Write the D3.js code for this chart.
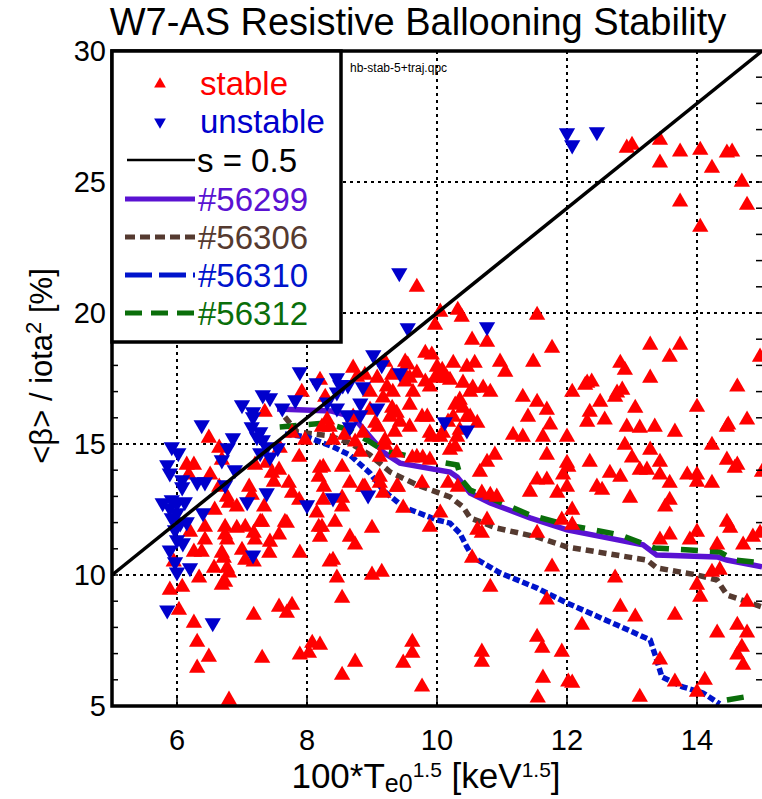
<!DOCTYPE html>
<html>
<head>
<meta charset="utf-8">
<script src="https://cdn.jsdelivr.net/npm/d3@7"></script>
<style>
  body { margin: 0; background: #fff; }
  svg { display: block; font-family: "Liberation Sans", Arial, sans-serif; }
</style>
</head>
<body>
<svg id="chart" width="762" height="799"></svg>
<script>
// stable / unstable points: [100*Te0^1.5, <beta>/iota^2]
const stable = [
  [6.43,11.83],[6.74,11.83],[6.92,11.79],[7.31,12.02],[7.69,11.98],[6.2,11.64],[6.74,11.53],[7.18,11.6],[7.57,11.53],[6.43,11.34],
  [6.77,11.34],[7.2,11.34],[7.43,11.26],[7.0,10.95],[6.26,10.88],[6.38,10.88],[6.69,10.84],[6.72,10.65],[7.42,10.84],[7.05,10.57],
  [7.18,10.5],[6.57,10.27],[6.77,10.27],[6.8,10.08],[5.95,10.5],[6.34,9.89],[6.69,9.62],[6.74,9.73],[5.89,9.43],[6.08,9.54],
  [6.03,8.66],[6.26,8.17],[7.57,8.78],[7.77,8.85],[7.69,8.55],[7.18,8.47],[6.31,7.44],[6.49,6.87],[7.31,6.83],[6.31,6.45],
  [6.8,5.23],[7.89,6.95],[8.03,7.02],[8.08,7.4],[8.2,7.33],[8.18,11.83],[8.2,11.45],[8.35,10.5],
  [6.49,15.23],[6.65,14.85],[6.69,14.39],[6.15,14.2],[6.26,14.2],[6.51,13.82],[6.65,13.36],[6.18,13.82],[6.77,12.98],[6.8,12.75],
  [6.92,12.6],[6.58,12.48],[7.35,16.22],[7.58,14.85],[7.2,14.2],[7.38,14.27],[7.46,13.89],[7.57,14.01],[7.49,13.55],[7.11,13.36],
  [7.15,13.05],[7.34,12.6],[7.72,13.51],[7.77,13.13],[7.88,14.5],[7.92,16.98],[8.2,14.08],[8.18,13.74],[8.26,13.36],[8.15,12.37],
  [7.77,15.42],[7.97,15.15],[7.88,12.86],[7.66,12.02],[7.28,12.02],[7.05,11.83],[8.23,11.83],[7.89,10.84],[8.43,12.02],[8.54,12.6],
  [8.66,11.45],[8.74,11.15],[8.4,10.57],[8.46,9.89],[8.54,9.12],[8.54,6.18],[8.74,6.68],
  [9.97,19.54],[10.54,18.97],[10.77,18.89],[9.82,18.47],[9.92,18.4],[9.51,18.13],[9.55,18.02],[10.25,18.09],[10.46,17.94],[10.58,18.09],
  [10.97,18.13],[11.05,17.75],[11.48,18.13],[9.2,18.13],[9.31,17.63],[9.48,17.75],[9.69,17.71],[10.0,17.94],[10.09,17.63],[10.2,17.44],
  [10.4,17.33],[10.55,17.14],[10.71,17.14],[10.82,16.98],[10.51,16.98],[10.35,16.68],[10.28,16.49],[10.4,16.37],[10.51,16.03],[10.62,15.8],
  [10.25,16.03],[10.17,15.84],[9.89,15.42],[10.09,15.42],[9.77,16.03],[9.58,16.49],[9.38,16.18],[9.43,15.84],[9.28,16.03],[9.58,15.65],
  [9.35,15.46],[9.09,15.65],[9.2,15.15],[9.38,14.66],[9.69,14.5],[9.78,14.47],[10.2,14.77],[10.28,14.89],[10.89,14.58],[10.77,14.31],
  [10.66,13.93],[11.17,15.34],[11.32,15.27],[11.4,16.03],[11.43,13.17],[10.69,13.13],[10.82,13.05],[10.17,13.51],[9.77,13.51],[9.4,13.36],
  [9.12,13.74],[9.12,13.51],[8.66,13.51],[8.86,13.36],[8.54,14.12],[8.25,14.12],[8.54,12.94],[8.25,12.86],[9.17,13.13],[9.48,12.56],
  [10.05,12.37],
  [8.97,16.98],[8.89,17.63],[8.71,17.9],[8.77,17.56],[9.08,17.52],[9.23,17.18],[9.32,16.98],[9.17,16.76],[9.31,16.37],[9.05,15.8],
  [8.86,15.42],[8.74,15.08],[8.82,14.69],[8.58,15.34],[8.4,15.15],[8.35,15.65],[8.31,15.92],[8.23,15.65],[8.71,16.03],[8.97,16.3],
  [9.2,14.96],[9.62,14.47],[9.58,17.52],[9.82,17.37],[9.97,17.52],[10.15,17.52],[10.08,17.82],[9.51,17.37],[9.63,16.98],[9.89,17.18],
  [9.12,14.5],[8.2,17.44],[8.28,16.79],
  [11.77,18.66],[13.28,18.78],[13.74,18.78],[13.58,18.32],[12.82,18.09],[12.89,17.82],[13.28,17.52],[12.31,17.33],[12.38,17.37],[12.08,16.98],
  [12.77,16.95],[12.85,17.06],[12.51,16.6],[11.54,16.6],[11.69,16.3],[13.05,16.37],[14.0,16.41],[14.62,17.18],[12.35,16.22],[12.58,15.92],
  [12.31,15.84],[11.74,15.73],[12.92,15.65],[13.12,15.61],[13.35,15.65],[13.66,15.46],[14.46,15.65],[14.77,15.92],[11.63,15.27],[12.0,15.27],
  [12.89,14.96],[13.28,14.77],[14.23,14.96],[13.0,14.47],[11.69,14.58],[12.35,14.31],[12.0,14.27],[13.12,14.01],[13.23,14.01],[13.43,14.31],
  [14.46,14.39],[14.62,14.2],[12.66,13.89],[12.82,13.74],[13.43,13.82],[13.85,13.82],[14.0,13.82],[14.0,13.55],[13.58,13.51],[14.23,13.51],
  [11.54,13.63],[11.69,13.63],[11.94,13.82],[12.0,13.36],[12.02,14.12],[12.46,13.36],[12.54,13.24],[11.85,13.13],[12.97,12.94],[13.58,12.86],
  [13.51,12.6],[12.08,12.48],[11.92,12.1],[14.46,12.02],[14.51,11.79],[13.58,11.53],[14.0,11.64],[13.89,11.34],[13.43,11.34],[14.31,11.15],
  [14.71,11.15],[14.86,11.45],[14.97,11.6],[11.54,11.6],[12.08,11.91],[14.23,10.11],[14.35,10.19],[14.0,9.62],[14.05,9.16],[14.77,8.97],
  [12.82,8.78],[13.05,8.4],[13.66,8.47],[12.74,9.89],[11.77,10.31],[11.69,9.05],[12.23,8.09],[10.82,9.54],[10.54,10.65],[10.77,12.1],
  [9.89,11.83],[10.62,11.72],[10.69,11.6],[10.32,13.36],[10.92,12.98],
  [14.62,8.09],[14.77,7.79],[14.31,7.79],[14.69,7.25],[14.62,6.95],[14.71,6.56],[13.43,6.76],[13.66,5.92],[14.12,5.99],[14.0,5.53],
  [13.12,5.34],[12.02,5.92],[12.08,5.88],[11.63,6.07],[11.54,7.63],[11.62,7.21],[11.92,7.06],[10.69,7.06],[10.69,6.68],[9.62,7.44],
  [9.62,7.02],[9.48,6.64],[9.77,5.73],[11.55,5.31],[9.0,10.0],[9.15,10.11],[9.0,11.79],[9.38,13.36],[8.89,13.36],[9.89,14.39],
  [9.85,16.03],[9.92,15.27],[10.05,15.27],[10.31,15.27],[10.35,15.53],[10.46,16.03],[11.32,16.79],
  [12.92,26.3],[13.0,26.41],[13.43,26.6],[13.74,26.15],[14.05,26.22],[13.43,25.73],[14.46,26.11],[14.54,26.15],[14.23,25.53],[14.69,25.0],
  [13.74,24.24],[14.77,24.12],[14.05,23.28],[11.54,19.92],[12.28,17.25],[12.74,16.79],[14.97,18.32],[9.69,20.99],[10.05,20.04],[10.32,20.11],
  [10.38,19.85],[14.48,15.73],[15.0,13.93],[14.58,14.08]
];

const unstable = [
  [7.89,17.75],[7.32,16.87],[7.43,16.76],[7.0,16.49],[7.17,16.22],[7.17,16.03],[7.62,16.37],[7.82,16.68],[6.38,15.73],[7.15,15.65],
  [7.28,15.46],[7.23,15.27],[7.32,15.15],[7.38,14.89],[7.28,14.66],[7.55,14.85],[7.43,14.5],[6.86,15.23],[6.78,14.85],[6.69,14.39],
  [6.89,14.01],[5.92,14.89],[6.02,14.66],[5.85,14.2],[5.89,13.89],[6.08,13.63],[6.08,13.36],[6.31,13.55],[6.43,13.55],[6.74,13.44],
  [7.08,12.79],[7.38,13.13],[5.78,12.75],[5.92,12.86],[6.0,12.75],[6.12,12.79],[5.89,12.56],[6.0,12.37],[5.92,12.18],[6.05,11.98],
  [6.15,12.02],[5.97,11.72],[6.0,11.34],[6.09,11.22],[5.89,10.95],[5.97,10.5],[6.0,10.11],[6.2,10.27],[6.4,12.37],[7.17,10.76],
  [5.85,8.66],[6.55,8.17],[8.0,12.67],[8.4,12.94],[8.15,17.33],[8.46,17.52],[8.55,17.25],[9.55,19.43],[10.77,19.47],[9.02,18.4],
  [9.15,18.02],[9.43,17.71],[8.51,17.25],[8.86,17.18],[8.63,17.25],[8.46,16.98],[8.31,16.6],[8.82,16.56],[9.08,16.37],[8.46,16.37],
  [8.62,16.11],[8.82,16.11],[8.66,15.65],[10.12,15.84],[10.46,15.53],[8.94,13.05],[12.0,26.87],[12.08,26.41],[12.46,26.91],[9.42,21.53]
];

// discharge trajectories (null = gap)
const traj56299 = [[7.54,16.34],[8.38,16.26],[8.71,16.03],[9.17,14.69],[9.43,14.27],[10.2,13.93],[10.31,13.74],[10.51,13.13],
  [10.82,12.75],[11.43,12.18],[12.0,11.72],[13.17,11.15],[13.38,10.76],[14.31,10.69],[14.46,10.57],[15.0,10.31]];
const traj56306 = [[7.66,16.03],[7.85,15.46],[8.35,15.31],[8.66,15.04],[8.97,14.58],[9.28,13.93],[9.69,13.44],[10.2,12.98],
  [10.4,12.6],[10.51,12.18],[10.92,11.79],[11.54,11.45],[12.0,11.07],[13.23,10.57],[13.38,10.27],[14.0,10.0],[14.31,9.81],
  [14.46,9.24],[15.0,8.78]];
const traj56310 = [[7.66,15.38],[8.0,15.27],[8.4,14.89],[8.66,14.58],[8.97,13.89],[9.17,13.24],[9.48,12.6],[10.0,12.1],
  [10.2,11.98],[10.35,11.6],[10.46,11.07],[10.55,10.69],[10.97,10.08],[11.54,9.5],[12.0,8.93],[12.77,8.09],[13.28,7.52],
  [13.38,6.76],[13.46,6.11],[13.78,5.73],[14.09,5.5],[14.35,5.08]];
const traj56312 = [[7.58,15.65],[8.28,15.8],[8.66,15.53],[8.97,15.08],[9.17,14.77],[9.74,14.43],[10.05,14.31],[10.31,14.2],
  [10.38,13.63],[10.51,13.24],[10.89,12.86],[11.43,12.29],[12.0,11.91],[12.82,11.53],[13.35,11.03],[13.89,10.95],[14.35,10.88],
  [14.58,10.57],[15.0,10.46],null,[14.46,5.23],[14.82,5.38]];

const xTicks = [6, 8, 10, 12, 14];
const yTicks = [5, 10, 15, 20, 25, 30];

const svg = d3.select("#chart");
const m = { left: 112, right: 762, top: 51, bottom: 706 };

const x = d3.scaleLinear().domain([5, 15]).range([m.left, m.right]);
const y = d3.scaleLinear().domain([5, 30]).range([m.bottom, m.top]);

const series = [
  { name: "#56299", data: traj56299, color: "#5a12d2", dash: null, legDash: null },
  { name: "#56306", data: traj56306, color: "#553a30", dash: "8,5", legDash: "10,5" },
  { name: "#56310", data: traj56310, color: "#0014cc", dash: "7,3", legDash: "27,7" },
  { name: "#56312", data: traj56312, color: "#0a6e0a", dash: "17,12", legDash: "17,9" }
];

// title
svg.append("text")
  .attr("x", 418).attr("y", 35)
  .attr("text-anchor", "middle")
  .style("font-size", "38px")
  .text("W7-AS Resistive Ballooning Stability");

// grid
const grid = svg.append("g")
  .attr("stroke", "#000").attr("stroke-width", 2).attr("stroke-dasharray", "3,4");
grid.selectAll(".gx").data(xTicks).enter().append("line")
  .attr("x1", d => x(d)).attr("x2", d => x(d)).attr("y1", m.top).attr("y2", m.bottom);
grid.selectAll(".gy").data(yTicks.slice(1, -1)).enter().append("line")
  .attr("y1", d => y(d)).attr("y2", d => y(d)).attr("x1", m.left).attr("x2", m.right);

// trajectories
const line = d3.line()
  .defined(d => d !== null)
  .x(d => x(d[0])).y(d => y(d[1]));
series.forEach(s => {
  svg.append("path")
    .datum(s.data)
    .attr("fill", "none")
    .attr("stroke", s.color)
    .attr("stroke-width", 5.5)
    .attr("stroke-dasharray", s.dash)
    .attr("d", line);
});

// points
const up = d3.symbol(d3.symbolTriangle, 115);
svg.append("g").selectAll("path").data(stable).enter().append("path")
  .attr("d", up)
  .attr("transform", d => `translate(${x(d[0])},${y(d[1])})`)
  .attr("fill", "#ff0000");
svg.append("g").selectAll("path").data(unstable).enter().append("path")
  .attr("d", up)
  .attr("transform", d => `translate(${x(d[0])},${y(d[1])}) rotate(180)`)
  .attr("fill", "#0000cc");

// s = 0.5 line
svg.append("line")
  .attr("x1", x(5)).attr("y1", y(10))
  .attr("x2", x(15)).attr("y2", y(30))
  .attr("stroke", "#000").attr("stroke-width", 3.5);

// axes: minor ticks
const tk = svg.append("g").attr("stroke", "#000").attr("stroke-width", 1.5);
tk.selectAll(".ty").data(d3.range(6, 30)).enter().append("line")
  .attr("x1", m.left).attr("x2", m.left + 6)
  .attr("y1", d => y(d)).attr("y2", d => y(d));
tk.selectAll(".ty2").data(d3.range(6, 30)).enter().append("line")
  .attr("x1", m.right - 6).attr("x2", m.right)
  .attr("y1", d => y(d)).attr("y2", d => y(d));
tk.selectAll(".tx").data(xTicks).enter().append("line")
  .attr("y1", m.bottom).attr("y2", m.bottom - 8)
  .attr("x1", d => x(d)).attr("x2", d => x(d));

// frame
svg.append("path")
  .attr("d", `M${m.right + 2},${m.top}H${m.left}V${m.bottom}H${m.right + 2}`)
  .attr("fill", "none").attr("stroke", "#000").attr("stroke-width", 3.5);

// tick labels
svg.selectAll(".xl").data(xTicks).enter().append("text")
  .attr("x", d => x(d)).attr("y", 750)
  .attr("text-anchor", "middle").style("font-size", "29px")
  .text(d => d);
svg.selectAll(".yl").data(yTicks).enter().append("text")
  .attr("x", 106).attr("y", d => y(d) + 10)
  .attr("text-anchor", "end").style("font-size", "29px")
  .text(d => d);

// x label
const xl = svg.append("text")
  .attr("x", 426).attr("y", 788)
  .attr("text-anchor", "middle").style("font-size", "35px");
xl.append("tspan").text("100*T");
xl.append("tspan").attr("dy", 4).style("font-size", "25px").text("e0");
xl.append("tspan").attr("dy", -15).style("font-size", "21px").text("1.5");
xl.append("tspan").attr("dy", 11).text(" [keV");
xl.append("tspan").attr("dy", -11).style("font-size", "21px").text("1.5");
xl.append("tspan").attr("dy", 11).text("]");

// y label
const yl = svg.append("text")
  .attr("transform", "translate(52,366) rotate(-90)")
  .attr("text-anchor", "middle").style("font-size", "31px");
yl.append("tspan").text("<β> / iota");
yl.append("tspan").attr("dy", -11).style("font-size", "22px").text("2");
yl.append("tspan").attr("dy", 11).text(" [%]");

// file note
svg.append("text")
  .attr("x", 350).attr("y", 72)
  .style("font-size", "12px")
  .text("hb-stab-5+traj.qpc");

// legend
const leg = svg.append("g");
leg.append("rect")
  .attr("x", m.left).attr("y", m.top)
  .attr("width", 229).attr("height", 291)
  .attr("fill", "#fff").attr("stroke", "#000").attr("stroke-width", 3.5);

const rowY = [84, 122, 160, 199, 237, 275, 313];
const small = d3.symbol(d3.symbolTriangle, 60);
leg.append("path").attr("d", small)
  .attr("transform", `translate(160,${rowY[0]})`).attr("fill", "#ff0000");
leg.append("path").attr("d", small)
  .attr("transform", `translate(160,${rowY[1]}) rotate(180)`).attr("fill", "#0000cc");
leg.append("text").attr("x", 200).attr("y", rowY[0] + 11)
  .style("font-size", "33px").attr("fill", "#ff0000").text("stable");
leg.append("text").attr("x", 200).attr("y", rowY[1] + 11)
  .style("font-size", "33px").attr("fill", "#0000cc").text("unstable");

leg.append("line")
  .attr("x1", 127).attr("x2", 195).attr("y1", rowY[2]).attr("y2", rowY[2])
  .attr("stroke", "#000").attr("stroke-width", 2.5);
leg.append("text").attr("x", 197).attr("y", rowY[2] + 12)
  .style("font-size", "33px").attr("fill", "#000").text("s = 0.5");

series.forEach((s, i) => {
  const yy = rowY[i + 3];
  leg.append("line")
    .attr("x1", 125).attr("x2", 195).attr("y1", yy).attr("y2", yy)
    .attr("stroke", s.color).attr("stroke-width", 5)
    .attr("stroke-dasharray", s.legDash);
  leg.append("text").attr("x", 198).attr("y", yy + 12)
    .style("font-size", "33px").attr("fill", s.color).text(s.name);
});
</script>
</body>
</html>
